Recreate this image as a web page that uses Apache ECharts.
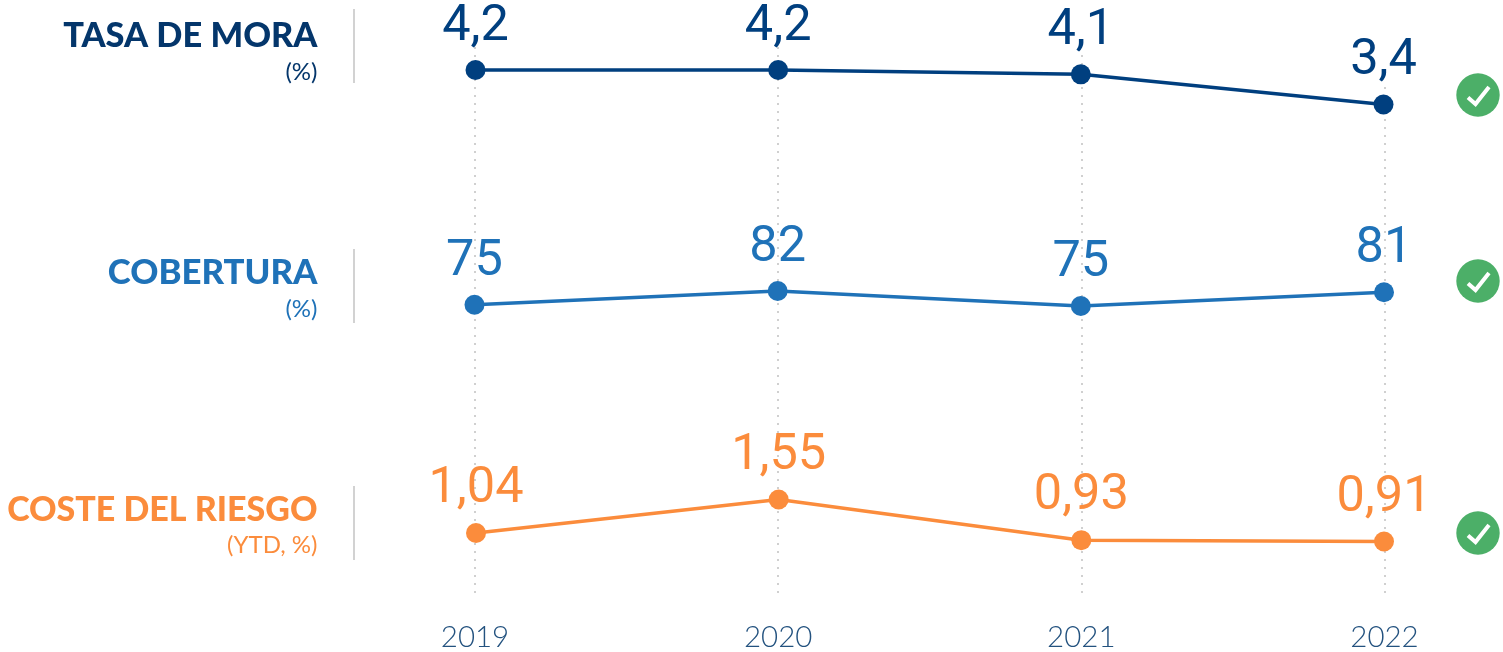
<!DOCTYPE html>
<html><head><meta charset="utf-8">
<style>html,body{margin:0;padding:0;background:#fff}#c{width:1503px;height:652px}</style>
<script src="https://cdn.jsdelivr.net/npm/echarts@6/dist/echarts.min.js"></script>
</head><body><div id="c"></div>
<script>
const years = ['2019','2020','2021','2022'];
const tasaDeMora = [4.2, 4.2, 4.1, 3.4];
const cobertura = [75.2, 82, 74.6, 81.4];
const costeDelRiesgo = [1.04, 1.55, 0.93, 0.91];
const panels = [
  {name:'TASA DE MORA', sub:'(%)', color:'#003f7f', titleColor:'#04366b', data:tasaDeMora, dec:1, left:475.5, right:119.5, top:70, bottom:104.5, min:3.4, max:4.2, titleSize:34.4, subSize:24, titleY:15, subY:59, sepY:9, checkY:95, dist:13.5, bg:'#fff'},
  {name:'COBERTURA', sub:'(%)', color:'#1f72b8', titleColor:'#1f72b8', data:cobertura, dec:0, left:474.5, right:119, top:291, bottom:306, min:74.6, max:82, titleSize:34.8, subSize:24, titleY:252, subY:296, sepY:249, checkY:281, dist:13},
  {name:'COSTE DEL RIESGO', sub:'(YTD, %)', color:'#fb8c3c', titleColor:'#fb8c3c', data:costeDelRiesgo, dec:2, left:476, right:119, top:499.5, bottom:541.5, min:0.91, max:1.55, titleSize:34, subSize:24, titleY:489, subY:532, sepY:486, checkY:533, dist:14}
];
const fmt = (v,d)=>v.toFixed(d).replace('.',',');
const W=1503,H=652;
const grid=[], xAxis=[], yAxis=[], series=[], title=[], graphic=[];
// background grid: dotted guides and year labels
grid.push({left:475,right:118.5,top:47,bottom:H-600,show:false});
xAxis.push({type:'category',gridIndex:0,data:years,boundaryGap:false,
  axisLine:{show:false},axisTick:{show:false},
  axisLabel:{show:true,margin:23,fontFamily:'Lato',fontWeight:300,fontSize:29.5,color:'#23527f',alignMinLabel:'center',alignMaxLabel:'center'},
  splitLine:{show:true,lineStyle:{color:'#d0d0d0',type:[2,6],width:2}}});
yAxis.push({type:'value',gridIndex:0,show:false,min:0,max:1});
panels.forEach((p,i)=>{
  const g=i+1;
  grid.push({left:p.left,right:p.right,top:p.top,height:p.bottom-p.top,show:false});
  xAxis.push({type:'category',gridIndex:g,data:years,boundaryGap:false,show:false});
  yAxis.push({type:'value',gridIndex:g,show:false,min:p.min,max:p.max,scale:true});
  series.push({type:'line',xAxisIndex:g,yAxisIndex:g,data:p.data,symbol:'circle',symbolSize:20,silent:true,
    clip:false,z:3,
    lineStyle:{color:p.color,width:3.5},itemStyle:{color:p.color},
    label:{show:true,position:'top',distance:p.dist,fontFamily:'Roboto',fontWeight:400,fontSize:50.5,lineHeight:39,color:p.color,
      backgroundColor:p.bg||'transparent',padding:0,formatter:o=>fmt(o.value,p.dec)}});
  title.push({text:p.name,right:W-317.5,top:p.titleY,padding:0,itemGap:0,textStyle:{fontFamily:'Lato',fontWeight:900,fontSize:p.titleSize,color:p.titleColor,lineHeight:42}});
  title.push({text:p.sub,right:W-317.5,top:p.subY,padding:0,textStyle:{fontFamily:'Lato',fontWeight:400,fontSize:p.subSize,color:p.titleColor,lineHeight:26}});
  graphic.push({type:'rect',shape:{x:353,y:p.sepY,width:2,height:74},style:{fill:'#d2d2d2'},silent:true});
  graphic.push({type:'circle',shape:{cx:1478,cy:p.checkY,r:21.7},style:{fill:'#4caf68'},silent:true});
  graphic.push({type:'polyline',shape:{points:[[1468,p.checkY+2.5],[1475.5,p.checkY+9],[1489,p.checkY-8]]},style:{stroke:'#fff',lineWidth:4,fill:null},silent:true});
});
const chart=echarts.init(document.getElementById('c'),null,{renderer:'canvas'});
chart.setOption({animation:false,backgroundColor:'#fff',grid,xAxis,yAxis,series,title,graphic});
</script></body></html>
